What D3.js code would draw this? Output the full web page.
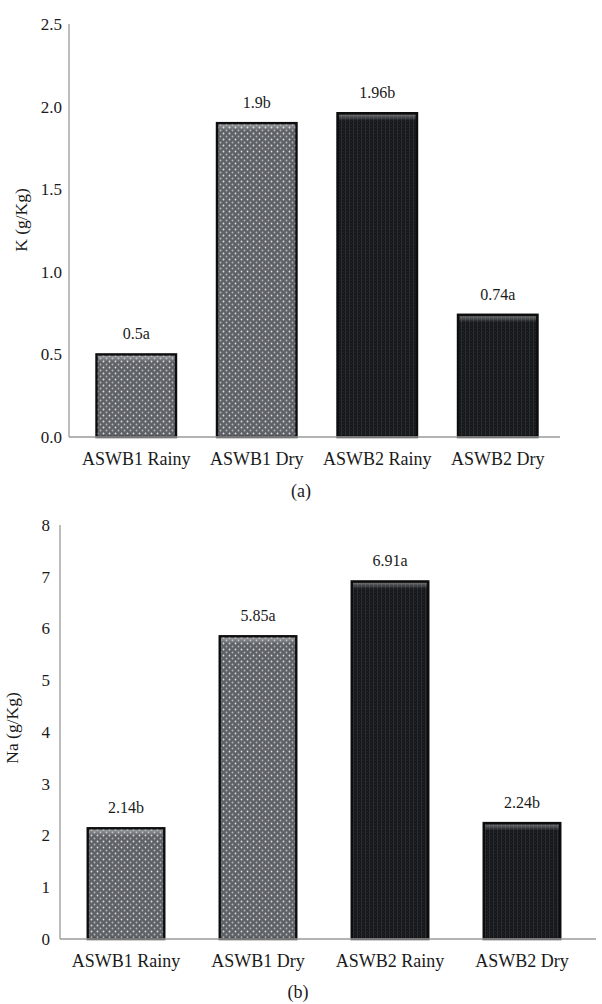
<!DOCTYPE html>
<html>
<head>
<meta charset="utf-8">
<script src="https://cdn.jsdelivr.net/npm/d3@7/dist/d3.min.js"></script>
<style>
  html, body { margin: 0; padding: 0; background: #fff; }
  svg { display: block; }
</style>
</head>
<body>
<svg id="chart" width="602" height="1004" font-family="'Liberation Serif', 'DejaVu Serif', serif"></svg>
<script>
// Sample categories and measured values (g/Kg) with significance letters
const categories = ["ASWB1 Rainy", "ASWB1 Dry", "ASWB2 Rainy", "ASWB2 Dry"];
const kValues = [0.5, 1.9, 1.96, 0.74];
const kLetters = ["a", "b", "b", "a"];
const naValues = [2.14, 5.85, 6.91, 2.24];
const naLetters = ["b", "a", "a", "b"];
const kTicks = [0, 0.5, 1.0, 1.5, 2.0, 2.5];
const naTicks = [0, 1, 2, 3, 4, 5, 6, 7, 8];

const FONT = "'Liberation Serif', 'DejaVu Serif', serif";
const INK = "#1a1a1a";

const svg = d3.select("#chart");
const defs = svg.append("defs");

// Light grey bar texture: staggered white dots
const dots = defs.append("pattern").attr("id", "dots")
  .attr("patternUnits", "userSpaceOnUse").attr("width", 6).attr("height", 6);
dots.append("rect").attr("width", 6).attr("height", 6).attr("fill", "#5f6267");
dots.append("circle").attr("cx", 1.5).attr("cy", 1.5).attr("r", 0.9).attr("fill", "#dcdee0");
dots.append("circle").attr("cx", 4.5).attr("cy", 4.5).attr("r", 0.9).attr("fill", "#b6b9bc");

// Dark bar texture: fine vertical threads
const threads = defs.append("pattern").attr("id", "threads")
  .attr("patternUnits", "userSpaceOnUse").attr("width", 4).attr("height", 3);
threads.append("rect").attr("width", 4).attr("height", 3).attr("fill", "#16181b");
threads.append("rect").attr("x", 1).attr("width", 1).attr("height", 3).attr("fill", "#2b2e32");
threads.append("rect").attr("x", 3).attr("y", 1).attr("width", 1).attr("height", 1).attr("fill", "#25282b");

// Soft highlight along the top edge of each bar
const shine = defs.append("linearGradient").attr("id", "shine")
  .attr("x1", 0).attr("y1", 0).attr("x2", 0).attr("y2", 1);
shine.append("stop").attr("offset", "0%").attr("stop-color", "#fff").attr("stop-opacity", 0.35);
shine.append("stop").attr("offset", "100%").attr("stop-color", "#fff").attr("stop-opacity", 0);

const fills = ["url(#dots)", "url(#dots)", "url(#threads)", "url(#threads)"];

function panel(cfg) {
  const g = svg.append("g").attr("font-family", FONT).attr("fill", INK);
  const x = d3.scaleBand().domain(categories).range(cfg.xRange).paddingInner(cfg.pad).paddingOuter(cfg.pad / 2);
  const y = d3.scaleLinear().domain([0, cfg.max]).range([cfg.y0, cfg.y1]);
  const rows = categories.map((c, i) => ({ c, v: cfg.values[i], l: cfg.letters[i], f: fills[i] }));

  // bars
  const bars = g.selectAll("g.bar").data(rows).join("g").attr("class", "bar");
  bars.append("rect")
    .attr("x", d => x(d.c)).attr("y", d => y(d.v))
    .attr("width", x.bandwidth()).attr("height", d => y(0) - y(d.v))
    .attr("fill", d => d.f)
    .attr("stroke", "#0d0d0d").attr("stroke-width", 2.4);
  bars.append("rect")
    .attr("x", d => x(d.c) + 1.5).attr("y", d => y(d.v) + 1.5)
    .attr("width", x.bandwidth() - 3).attr("height", 6)
    .attr("fill", "url(#shine)");

  // value labels
  g.selectAll("text.val").data(rows).join("text").attr("class", "val")
    .attr("x", d => x(d.c) + x.bandwidth() / 2)
    .attr("y", d => y(d.v) - 15)
    .attr("text-anchor", "middle").attr("font-size", 16)
    .text(d => String(d.v) + d.l);

  // y axis
  g.append("line").attr("x1", cfg.axisX).attr("x2", cfg.axisX)
    .attr("y1", y(cfg.max)).attr("y2", y(0))
    .attr("stroke", "#9a9a9a").attr("stroke-width", 1.3);
  g.selectAll("text.tick").data(cfg.ticks).join("text").attr("class", "tick")
    .attr("x", cfg.axisX - cfg.tickGap).attr("y", d => y(d))
    .attr("dy", "0.35em").attr("text-anchor", "end").attr("font-size", 17)
    .text(d => cfg.fmt(d));

  // x axis
  g.append("line").attr("x1", cfg.axisX).attr("x2", cfg.xEnd)
    .attr("y1", y(0)).attr("y2", y(0))
    .attr("stroke", "#9a9a9a").attr("stroke-width", 1.3);
  g.selectAll("text.cat").data(categories).join("text").attr("class", "cat")
    .attr("x", d => x(d) + x.bandwidth() / 2).attr("y", y(0) + 22)
    .attr("dy", "0.35em").attr("text-anchor", "middle").attr("font-size", 18)
    .text(d => d);

  // axis title
  g.append("text")
    .attr("transform", `translate(${cfg.titleX},${cfg.titleY}) rotate(-90)`)
    .attr("text-anchor", "middle").attr("dy", "0.35em").attr("font-size", 17.5)
    .text(cfg.title);

  // panel caption
  g.append("text").attr("x", cfg.capX).attr("y", cfg.capY)
    .attr("dy", "0.35em").attr("text-anchor", "middle").attr("font-size", 18)
    .text(cfg.caption);
}

panel({
  values: kValues, letters: kLetters, ticks: kTicks, max: 2.5,
  fmt: d3.format(".1f"),
  xRange: [76, 558], pad: 0.34, xEnd: 560,
  y0: 437, y1: 24, axisX: 69, tickGap: 7,
  title: "K (g/Kg)", titleX: 21, titleY: 220,
  caption: "(a)", capX: 301, capY: 491
});

panel({
  values: naValues, letters: naLetters, ticks: naTicks, max: 8,
  fmt: d3.format("d"),
  xRange: [60, 588], pad: 0.42, xEnd: 596,
  y0: 939, y1: 525, axisX: 60, tickGap: 10,
  title: "Na (g/Kg)", titleX: 12, titleY: 728,
  caption: "(b)", capX: 298, capY: 992
});
</script>
</body>
</html>
